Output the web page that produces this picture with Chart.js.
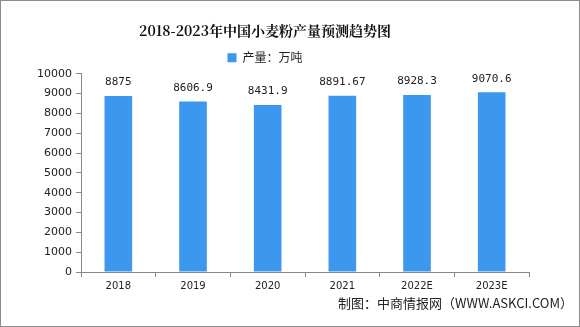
<!DOCTYPE html>
<html>
<head>
<meta charset="utf-8">
<script src="https://cdn.jsdelivr.net/npm/chart.js@4/dist/chart.umd.min.js"></script>
<style>
  html, body { margin: 0; padding: 0; background: #fff; }
  #wrap { width: 578px; height: 325px; border: 1px solid #8c8c8c; position: relative; }
</style>
</head>
<body>
<div id="wrap"><canvas id="c" width="578" height="325"></canvas></div>
<script>
  // Daten
  const years = ['2018', '2019', '2020', '2021', '2022E', '2023E'];
  const output = [8875, 8606.9, 8431.9, 8891.67, 8928.3, 9070.6];
  const yTicks = [0, 1000, 2000, 3000, 4000, 5000, 6000, 7000, 8000, 9000, 10000];

  // Werte über den Balken
  const valueLabels = {
    id: 'valueLabels',
    afterDatasetsDraw(chart) {
      const ctx = chart.ctx;
      const meta = chart.getDatasetMeta(0);
      ctx.save();
      ctx.font = '11px "DejaVu Sans Mono", monospace';
      ctx.fillStyle = '#222';
      ctx.textAlign = 'center';
      ctx.textBaseline = 'bottom';
      meta.data.forEach((bar, i) => {
        ctx.fillText(String(output[i]), bar.x, bar.y - 8);
      });
      ctx.restore();
    }
  };

  // Quelle unten rechts
  const footer = {
    id: 'footer',
    afterDraw(chart) {
      const ctx = chart.ctx;
      ctx.save();
      ctx.font = '13px "Noto Sans CJK SC", sans-serif';
      ctx.fillStyle = '#222';
      ctx.textAlign = 'right';
      ctx.textBaseline = 'middle';
      ctx.fillText('制图：中商情报网（WWW.ASKCI.COM）', 572, 302);
      ctx.restore();
    }
  };

  new Chart(document.getElementById('c'), {
    type: 'bar',
    data: {
      labels: years,
      datasets: [{
        label: '产量：万吨',
        data: output,
        backgroundColor: '#3c97ee',
        barPercentage: 0.37,
        categoryPercentage: 1
      }]
    },
    options: {
      responsive: false,
      animation: false,
      layout: { padding: { left: 0, right: 50, top: 8, bottom: 31 } },
      plugins: {
        title: {
          display: true,
          text: '2018-2023年中国小麦粉产量预测趋势图',
          color: '#111',
          font: { family: '"Noto Serif CJK SC", "DejaVu Serif", serif', size: 14, weight: 'bold' },
          padding: { top: 13, bottom: 5 }
        },
        legend: {
          display: true,
          labels: {
            boxWidth: 9, boxHeight: 9, color: '#222', padding: 8,
            font: { family: '"Noto Sans CJK SC", sans-serif', size: 12 }
          }
        },
        tooltip: { enabled: false }
      },
      scales: {
        x: {
          grid: { display: true, drawOnChartArea: false, offset: true, color: '#888', tickLength: 5 },
          border: { color: '#888' },
          ticks: { color: '#222', font: { family: '"DejaVu Sans", sans-serif', size: 10 }, padding: 3 }
        },
        y: {
          min: 0, max: 10000,
          afterFit(s) { s.width = 80; },
          afterBuildTicks(s) { s.ticks = yTicks.map(v => ({ value: v })); },
          grid: { display: true, drawOnChartArea: false, color: '#888', tickLength: 5 },
          border: { color: '#888' },
          ticks: {
            color: '#222', font: { family: '"DejaVu Sans", sans-serif', size: 11 }, padding: 4,
            callback: v => String(v)
          }
        }
      }
    },
    plugins: [valueLabels, footer]
  });
</script>
</body>
</html>
